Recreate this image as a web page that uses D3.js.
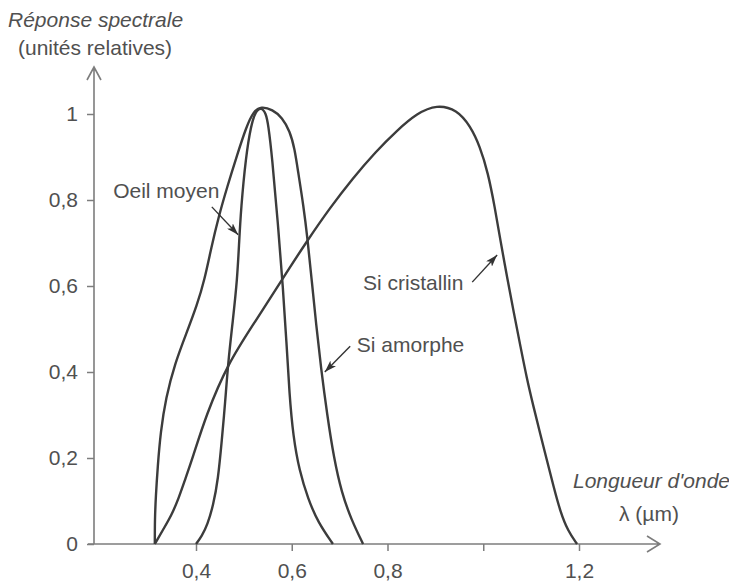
<!DOCTYPE html>
<html>
<head>
<meta charset="utf-8">
<script src="https://cdn.jsdelivr.net/npm/d3@7"></script>
<style>
body { margin: 0; background: #fff; }
svg text { font-family: "Liberation Sans", Arial, sans-serif; fill: #505050; }
</style>
</head>
<body>
<div id="chart"></div>
<script>
const xTicks = [0.4, 0.6, 0.8, 1.0, 1.2];
const xTickLabels = ["0,4", "0,6", "0,8", "", "1,2"];
const yTicks = [0, 0.2, 0.4, 0.6, 0.8, 1];
const yTickLabels = ["0", "0,2", "0,4", "0,6", "0,8", "1"];

// [longueur d'onde (µm), réponse relative]
const oeilMoyen = [
    [0.400, 0.000], [0.412, 0.018], [0.424, 0.045], [0.436, 0.090], [0.446, 0.149],
    [0.454, 0.242], [0.461, 0.330], [0.467, 0.421], [0.477, 0.520], [0.486, 0.614],
    [0.490, 0.700], [0.494, 0.780], [0.504, 0.900], [0.515, 0.974], [0.524, 1.005],
    [0.536, 1.016], [0.546, 1.002], [0.551, 0.975], [0.559, 0.900], [0.571, 0.747],
    [0.582, 0.591], [0.589, 0.470], [0.595, 0.350], [0.603, 0.250], [0.616, 0.170],
    [0.634, 0.105], [0.655, 0.050], [0.686, 0.000]
];

const siAmorphe = [
    [0.314, 0.000], [0.314, 0.056], [0.316, 0.110], [0.320, 0.180], [0.326, 0.260],
    [0.337, 0.340], [0.356, 0.420], [0.380, 0.490], [0.402, 0.555], [0.418, 0.615],
    [0.432, 0.690], [0.447, 0.760], [0.465, 0.830], [0.486, 0.905], [0.505, 0.970],
    [0.520, 1.006], [0.536, 1.018], [0.560, 1.010], [0.580, 0.992], [0.596, 0.960],
    [0.606, 0.920], [0.614, 0.860], [0.624, 0.790], [0.633, 0.710], [0.642, 0.610],
    [0.651, 0.510], [0.661, 0.410], [0.674, 0.300], [0.688, 0.200], [0.704, 0.120],
    [0.725, 0.055], [0.749, 0.000]
];

const siCristallin = [
    [0.314, 0.000], [0.331, 0.033], [0.349, 0.067], [0.364, 0.107], [0.377, 0.149],
    [0.393, 0.200], [0.421, 0.300], [0.467, 0.421], [0.523, 0.516], [0.582, 0.619],
    [0.632, 0.705], [0.680, 0.782], [0.727, 0.850], [0.775, 0.912], [0.820, 0.962],
    [0.862, 1.002], [0.903, 1.022], [0.945, 1.010], [0.973, 0.972], [0.993, 0.925],
    [1.010, 0.863], [1.024, 0.784], [1.036, 0.705], [1.050, 0.619], [1.064, 0.537],
    [1.078, 0.458], [1.091, 0.385], [1.105, 0.319], [1.119, 0.256], [1.133, 0.195],
    [1.147, 0.133], [1.161, 0.075], [1.177, 0.030], [1.196, 0.000]
];

const series = [oeilMoyen, siAmorphe, siCristallin];

// annotations in data units: text anchor, arrow start -> arrow tip
const notes = [
    {text: "Oeil moyen",    at: [0.227, 0.805], from: [0.433, 0.784], to: [0.488, 0.719]},
    {text: "Si cristallin", at: [0.749, 0.591], from: [0.977, 0.609], to: [1.029, 0.672]},
    {text: "Si amorphe",    at: [0.736, 0.446], from: [0.722, 0.460], to: [0.669, 0.400]}
];

const width = 729, height = 584;
const axisLeftX = 94, axisEndX = 660, axisTopY = 67;

const x = d3.scaleLinear().domain([0.4, 1.2]).range([196, 579]);
const y = d3.scaleLinear().domain([0, 1]).range([544, 114]);

const svg = d3.select("#chart").append("svg")
    .attr("width", width)
    .attr("height", height);

svg.append("defs").append("marker")
    .attr("id", "head")
    .attr("viewBox", "0 0 12 8")
    .attr("refX", 12)
    .attr("refY", 4)
    .attr("markerWidth", 12)
    .attr("markerHeight", 8)
    .attr("markerUnits", "userSpaceOnUse")
    .attr("orient", "auto")
    .append("path")
    .attr("d", "M0,0 L12,4 L0,8 L3,4 z")
    .attr("fill", "#333");

const fontSize = 21;
const axisColor = "#7d7d7d";

// x axis
svg.append("g")
    .attr("transform", "translate(0," + y(0) + ")")
    .call(d3.axisBottom(x).tickValues(xTicks)
        .tickFormat(function(d, i) { return xTickLabels[i]; })
        .tickSize(7).tickPadding(12))
    .call(function(g) { g.select(".domain").remove(); })
    .call(function(g) {
        g.selectAll("line").attr("stroke", axisColor).attr("stroke-width", 1.5);
        g.selectAll("text").style("font-size", fontSize + "px").attr("fill", "#505050");
    });

// y axis
svg.append("g")
    .attr("transform", "translate(" + axisLeftX + ",0)")
    .call(d3.axisLeft(y).tickValues(yTicks)
        .tickFormat(function(d, i) { return yTickLabels[i]; })
        .tickSize(7).tickPadding(9))
    .call(function(g) { g.select(".domain").remove(); })
    .call(function(g) {
        g.selectAll("line").attr("stroke", axisColor).attr("stroke-width", 1.5);
        g.selectAll("text").style("font-size", fontSize + "px").attr("fill", "#505050");
    });

// axis lines with open arrows
svg.append("path")
    .attr("d", "M" + (axisLeftX - 6) + "," + y(0) + "H" + axisEndX +
        "M" + (axisEndX - 13) + "," + (y(0) - 8) + "L" + axisEndX + "," + y(0) + "L" + (axisEndX - 13) + "," + (y(0) + 8))
    .attr("fill", "none").attr("stroke", axisColor).attr("stroke-width", 1.6);

svg.append("path")
    .attr("d", "M" + axisLeftX + "," + y(0) + "V" + axisTopY +
        "M" + (axisLeftX - 7) + "," + (axisTopY + 13) + "L" + axisLeftX + "," + axisTopY + "L" + (axisLeftX + 7) + "," + (axisTopY + 13))
    .attr("fill", "none").attr("stroke", axisColor).attr("stroke-width", 1.6);

// curves
const line = d3.line()
    .curve(d3.curveBasis)
    .x(function(d) { return x(d[0]); })
    .y(function(d) { return y(d[1]); });

svg.selectAll(".curve")
    .data(series)
    .enter()
    .append("path")
    .attr("class", "curve")
    .attr("d", line)
    .attr("fill", "none")
    .attr("stroke", "#3c3c3c")
    .attr("stroke-width", 2.4)
    .attr("stroke-linejoin", "round");

// annotations
svg.selectAll(".note")
    .data(notes)
    .enter()
    .append("text")
    .attr("class", "note")
    .attr("x", function(d) { return x(d.at[0]); })
    .attr("y", function(d) { return y(d.at[1]); })
    .style("font-size", fontSize + "px")
    .text(function(d) { return d.text; });

svg.selectAll(".pointer")
    .data(notes)
    .enter()
    .append("line")
    .attr("class", "pointer")
    .attr("x1", function(d) { return x(d.from[0]); })
    .attr("y1", function(d) { return y(d.from[1]); })
    .attr("x2", function(d) { return x(d.to[0]); })
    .attr("y2", function(d) { return y(d.to[1]); })
    .attr("stroke", "#333")
    .attr("stroke-width", 1.4)
    .attr("marker-end", "url(#head)");

// axis titles
svg.append("text").attr("x", 8).attr("y", 27)
    .style("font-size", fontSize + "px").style("font-style", "italic")
    .text("Réponse spectrale");
svg.append("text").attr("x", 18).attr("y", 55)
    .style("font-size", fontSize + "px")
    .text("(unités relatives)");
svg.append("text").attr("x", 573).attr("y", 488)
    .style("font-size", fontSize + "px").style("font-style", "italic")
    .text("Longueur d'onde");
svg.append("text").attr("x", 619).attr("y", 521)
    .style("font-size", fontSize + "px")
    .text("λ (µm)");
</script>
</body>
</html>
